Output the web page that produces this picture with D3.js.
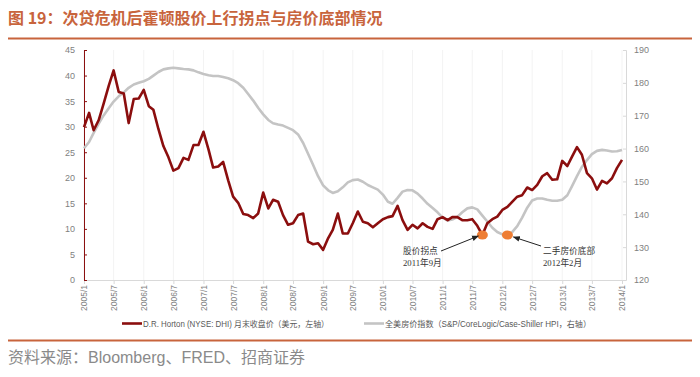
<!DOCTYPE html>
<html>
<head>
<meta charset="utf-8">
<script src="https://cdn.jsdelivr.net/npm/d3@7"></script>
<style>
  body { margin: 0; background: #fff; }
  svg { display: block; font-family: "Liberation Sans", "Noto Sans CJK SC", sans-serif; }
</style>
</head>
<body>
<div id="chart"></div>
<script>
// D.R. Horton month-end close (USD, left axis), 2005/1 .. 2014/1
var dhi = [29.9,32.7,29.3,31.3,34.5,38.0,41.0,36.8,36.5,30.7,35.4,35.5,
           37.2,34.0,33.3,29.5,26.2,24.0,21.4,21.9,23.9,23.5,26.4,26.4,
           29.0,25.5,22.0,22.2,23.1,19.5,16.3,15.1,12.9,12.7,12.1,13.0,
           17.1,14.0,15.7,15.3,12.7,10.8,11.1,12.7,13.0,7.5,7.0,7.2,
           5.9,8.2,9.8,13.0,9.1,9.1,11.1,13.4,11.4,11.1,10.3,11.1,
           11.9,12.3,12.5,14.5,11.7,9.8,10.8,10.1,11.1,10.4,10.0,11.9,
           12.3,11.7,12.3,12.3,11.7,11.7,11.9,10.6,8.8,11.1,11.9,12.4,
           13.7,14.3,15.3,16.3,16.6,18.1,17.6,18.6,20.3,20.9,19.6,19.7,
           23.3,22.3,24.1,26.0,24.5,20.9,19.9,17.7,19.4,18.9,19.9,21.9,
           23.5];
// S&P/CoreLogic/Case-Shiller national HPI (right axis)
var hpi = [160.1,162.0,164.8,167.6,170.1,172.3,174.3,175.9,177.1,178.5,179.5,180.0,
           180.5,181.2,182.2,183.3,184.1,184.4,184.6,184.4,184.2,184.1,183.8,183.2,
           182.7,182.3,182.1,182.1,181.8,181.4,180.8,179.9,178.5,176.6,174.6,172.4,
           170.4,168.7,167.7,167.3,167.0,166.3,165.6,164.3,161.7,158.4,155.0,151.6,
           148.8,147.3,146.5,147.0,148.2,149.7,150.4,150.6,149.9,148.9,148.2,147.5,
           146.0,143.8,143.2,145.0,146.9,147.4,147.3,146.3,144.8,143.2,141.9,140.6,
           139.0,138.1,138.4,139.2,140.6,141.8,142.1,141.5,139.6,137.8,135.9,134.6,
           133.9,133.7,134.6,136.4,139.0,142.0,144.2,144.8,144.8,144.4,144.1,144.1,
           144.4,145.8,148.5,151.6,154.4,156.5,158.3,159.3,159.6,159.4,159.1,159.2,
           159.6];
var xTicks = ["2005/1","2005/7","2006/1","2006/7","2007/1","2007/7","2008/1","2008/7",
              "2009/1","2009/7","2010/1","2010/7","2011/1","2011/7","2012/1","2012/7",
              "2013/1","2013/7","2014/1"];
var leftTicks = [0,5,10,15,20,25,30,35,40,45];
var rightTicks = [120,130,140,150,160,170,180,190];
var notes = [
  {month: "2011/9", series: "dhi", label: ["股价拐点", "2011年9月"]},
  {month: "2012/2", series: "hpi", label: ["二手房价底部", "2012年2月"]}
];
var titleText = "图 19：次贷危机后霍顿股价上行拐点与房价底部情况";
var sourceText = "资料来源：Bloomberg、FRED、招商证券";
var legendNames = ["D.R. Horton (NYSE: DHI) 月末收盘价（美元，左轴）",
                   "全美房价指数（S&P/CoreLogic/Case-Shiller HPI，右轴）"];

var W = 700, H = 377;
var parseM = d3.timeParse("%Y/%m");
var start = parseM("2005/1");
var dates = dhi.map(function(d, i) { return d3.timeMonth.offset(start, i); });

var svg = d3.select("#chart").append("svg").attr("width", W).attr("height", H);

var x = d3.scaleTime().domain([parseM("2005/1"), parseM("2014/1")]).range([84, 622]);
var yL = d3.scaleLinear().domain([0, 45]).range([280, 50]);
var yR = d3.scaleLinear().domain([120, 190]).range([280, 50]);

var orange = "#C8643C";
// title
svg.append("text").attr("x", 8).attr("y", 24)
  .style("font-family", "'Noto Sans CJK SC', sans-serif")
  .style("font-size", "16px").style("font-weight", "bold")
  .style("fill", orange).text(titleText);
svg.append("line").attr("x1", 8).attr("x2", 692).attr("y1", 38.5).attr("y2", 38.5)
  .style("stroke", orange).style("stroke-width", 2);

// faint vertical grid
svg.selectAll(".vgrid").data(xTicks).enter().append("line")
  .attr("x1", function(d) { return x(parseM(d)); })
  .attr("x2", function(d) { return x(parseM(d)); })
  .attr("y1", 50).attr("y2", 280)
  .style("stroke", "#f3f3f3").style("stroke-width", 1);

// x axis
var gx = svg.append("g").attr("transform", "translate(0,280)")
  .call(d3.axisBottom(x).tickValues(xTicks.map(parseM)).tickFormat(d3.timeFormat("%Y/%-m")).tickSize(4));
gx.select(".domain").style("stroke", "#d9d9d9");
gx.selectAll(".tick line").style("stroke", "#d9d9d9");
gx.selectAll(".tick text")
  .attr("transform", "rotate(-90)")
  .attr("x", -5).attr("y", 0).attr("dy", "0.35em")
  .style("text-anchor", "end")
  .style("font-size", "8.5px").style("fill", "#7f7f7f");

// left axis
var gl = svg.append("g").attr("transform", "translate(84,0)")
  .call(d3.axisLeft(yL).tickValues(leftTicks).tickSize(-3).tickPadding(9));
gl.select(".domain").style("stroke", "#8B1010");
gl.selectAll(".tick line").style("stroke", "#8B1010");
gl.selectAll(".tick text").style("font-size", "9px").style("fill", "#7f7f7f");

// right axis
var gr = svg.append("g").attr("transform", "translate(626,0)")
  .call(d3.axisRight(yR).tickValues(rightTicks).tickSize(-3).tickPadding(8));
gr.select(".domain").style("stroke", "#d9d9d9");
gr.selectAll(".tick line").style("stroke", "#d9d9d9");
gr.selectAll(".tick text").style("font-size", "9px").style("fill", "#7f7f7f");

// lines
var lineR = d3.line().x(function(d, i) { return x(dates[i]); }).y(function(d) { return yR(d); });
var lineL = d3.line().x(function(d, i) { return x(dates[i]); }).y(function(d) { return yL(d); });
svg.append("path").datum(hpi).attr("d", lineR)
  .style("fill", "none").style("stroke", "#c4c4c4").style("stroke-width", 2.6).style("stroke-linejoin", "round");
svg.append("path").datum(dhi).attr("d", lineL)
  .style("fill", "none").style("stroke", "#8B0E0E").style("stroke-width", 2.6).style("stroke-linejoin", "round");

// annotations
svg.append("defs").append("marker").attr("id", "arr")
  .attr("viewBox", "0 0 10 10").attr("refX", 9).attr("refY", 5)
  .attr("markerWidth", 7).attr("markerHeight", 7).attr("orient", "auto")
  .append("path").attr("d", "M0,1L10,5L0,9Z").style("fill", "#222");

notes.forEach(function(n, k) {
  var i = d3.timeMonth.count(start, parseM(n.month));
  var px = x(dates[i]);
  var py = n.series === "dhi" ? yL(dhi[i]) : yR(hpi[i]);
  svg.append("ellipse").attr("cx", px).attr("cy", py).attr("rx", 5.5).attr("ry", 4.5)
    .style("fill", "#EE7D33");
  var tx = k === 0 ? 403 : 543;
  var ax = k === 0 ? 441 : 541;
  var ay = k === 0 ? 251 : 246;
  svg.append("line").attr("x1", ax).attr("y1", ay)
    .attr("x2", k === 0 ? px - 4 : px + 6).attr("y2", py + (k === 0 ? 1 : 2))
    .style("stroke", "#222").style("stroke-width", 1).attr("marker-end", "url(#arr)");
  var t = svg.append("text")
    .style("font-family", "'Liberation Serif', 'Noto Sans CJK SC', serif")
    .style("font-size", "8.7px").style("fill", "#333");
  t.append("tspan").attr("x", tx).attr("y", 254).text(n.label[0]);
  t.append("tspan").attr("x", tx).attr("y", 266).text(n.label[1]);
});

// legend
var lg = [{x: 122, c: "#8B0E0E", w: 186}, {x: 364, c: "#c4c4c4", w: 206}];
lg.forEach(function(l, k) {
  svg.append("line").attr("x1", l.x).attr("x2", l.x + 20).attr("y1", 323.5).attr("y2", 323.5)
    .style("stroke", l.c).style("stroke-width", 2.6);
  svg.append("text").attr("x", l.x + 21).attr("y", 326.5)
    .attr("textLength", l.w).attr("lengthAdjust", "spacingAndGlyphs")
    .style("font-size", "8.5px").style("fill", "#595959").text(legendNames[k]);
});

// bottom rule and source
svg.append("line").attr("x1", 8).attr("x2", 692).attr("y1", 340.5).attr("y2", 340.5)
  .style("stroke", orange).style("stroke-width", 2);
svg.append("text").attr("x", 8).attr("y", 363)
  .style("font-size", "16px").style("fill", "#8a8a8a").text(sourceText);
</script>
</body>
</html>
